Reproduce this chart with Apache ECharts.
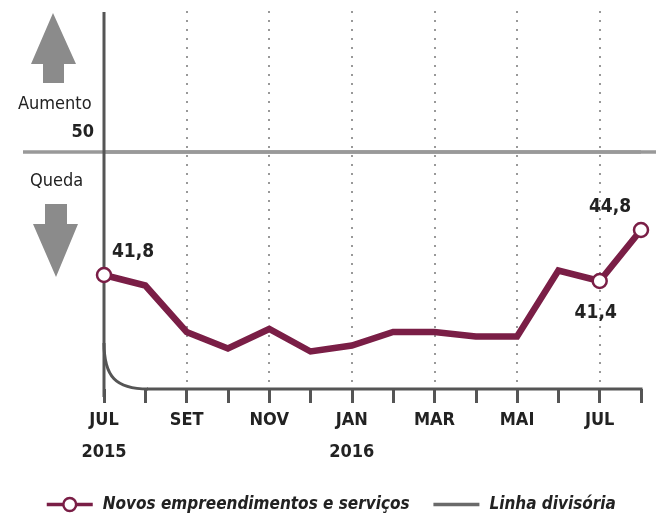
<!DOCTYPE html>
<html><head><meta charset="utf-8">
<script src="https://cdn.jsdelivr.net/npm/echarts@6/dist/echarts.min.js"></script>
<style>html,body{margin:0;padding:0;background:#fff}#c{width:656px;height:517px}</style>
</head><body><div id="c"></div>
<script>
// ---- data ----
const months = ['2015-07','2015-08','2015-09','2015-10','2015-11','2015-12','2016-01','2016-02','2016-03','2016-04','2016-05','2016-06','2016-07','2016-08'];
const tickLabels = ['JUL\n2015','','SET','','NOV','','JAN\n2016','','MAR','','MAI','','JUL',''];
const seriesName = 'Novos empreendimentos e serviços';
const values = [41.8,41.1,38.0,36.9,38.2,36.7,37.1,38.0,38.0,37.7,37.7,42.1,41.4,44.8];
const markedIdx = [0,12,13];
const dividerName = 'Linha divisória';
const dividerValue = 50;
const upText = 'Aumento';
const downText = 'Queda';
const dividerLabel = '50';

// ---- styling ----
const FONT = '"Liberation Sans Narrow","DejaVu Sans Condensed","Roboto Condensed",Roboto,sans-serif';
const WINE = '#7a1e46';
const labelPlace = {
  0: {position:'top', offset:[29,0]},
  12: {position:'bottom', offset:[-4,9]},
  13: {position:'top', offset:[-31,0]}
};
const fmt = v => v.toFixed(1).replace('.', ',');

const chart = echarts.init(document.getElementById('c'), null, {renderer:'canvas'});

const mainData = values.map((v,i) => {
  const marked = markedIdx.includes(i);
  const item = {value: v, symbol: marked ? 'circle' : 'none'};
  if (marked) {
    item.label = Object.assign({show:true, formatter: p => fmt(p.value)}, labelPlace[i]);
  }
  return item;
});

const option = {
  animation:false,
  textStyle:{fontFamily:FONT},
  grid:{left:104, right:15, top:11, bottom:128},
  xAxis:{
    type:'category', data:months, boundaryGap:false,
    axisLine:{show:false},
    axisTick:{show:true, interval:0, length:14, inside:false, lineStyle:{color:'#555', width:3}},
    axisLabel:{interval:0, formatter:(v,i)=>tickLabels[i], fontFamily:FONT, fontWeight:'bold', fontSize:18, color:'#222', lineHeight:32, margin:15},
    splitLine:{show:true, interval:(i)=> i>0 && i%2===0, lineStyle:{color:'#999', type:[2,7], width:2}}
  },
  yAxis:{type:'value', min:34.2, max:59.4, axisLine:{show:false}, axisTick:{show:false}, axisLabel:{show:false}, splitLine:{show:false}},
  legend:{
    top:491, left:40, itemGap:22, itemWidth:46, itemHeight:16, selectedMode:false,
    textStyle:{fontFamily:FONT, fontSize:17, fontWeight:'bold', fontStyle:'italic', color:'#222', padding:[0,0,0,5]},
    data:[
      {name:seriesName, lineStyle:{width:3.5, color:WINE}, itemStyle:{color:'#fff', borderColor:WINE, borderWidth:2.5}},
      {name:dividerName, itemStyle:{opacity:0}, lineStyle:{width:3.5, color:'#6a6a6a'}}
    ]
  },
  series:[
    {name:dividerName, type:'line', data:months.map(()=>dividerValue), symbol:'none', z:1,
     color:'#777', lineStyle:{color:'#999', width:3.5}},
    {name:seriesName, type:'line', data:mainData, z:10, symbol:'circle', symbolSize:14,
     color:WINE,
     lineStyle:{color:WINE, width:6.5, join:'miter'},
     itemStyle:{color:'#fff', borderColor:WINE, borderWidth:2.5},
     label:{fontFamily:FONT, fontSize:19, fontWeight:'bold', color:'#222', distance:5}}
  ]
};
chart.setOption(option);

const x0 = chart.convertToPixel({xAxisIndex:0}, 0);
const xN = chart.convertToPixel({xAxisIndex:0}, months.length-1);
const y50 = chart.convertToPixel({yAxisIndex:0}, dividerValue);
const yB = chart.convertToPixel({yAxisIndex:0}, 34.2);

chart.setOption({graphic:[
  {type:'line', z:1, shape:{x1:23, y1:y50, x2:656, y2:y50}, style:{stroke:'#999', lineWidth:3.5}},
  {type:'line', z:5, shape:{x1:x0, y1:12, x2:x0, y2:yB+8}, style:{stroke:'#555', lineWidth:3}},
  {type:'bezierCurve', z:5, shape:{x1:x0, y1:yB-46, cpx1:x0, cpy1:yB-12, cpx2:x0+12, cpy2:yB, x2:x0+44, y2:yB},
   style:{stroke:'#555', lineWidth:3, fill:null}},
  {type:'line', z:5, shape:{x1:x0+43, y1:yB, x2:xN+1.5, y2:yB}, style:{stroke:'#555', lineWidth:3}},
  {type:'polygon', z:1, shape:{points:[[53,13],[76,64],[64,64],[64,83],[43,83],[43,64],[31,64]]}, style:{fill:'#8b8b8b'}},
  {type:'polygon', z:1, shape:{points:[[45,204],[67,204],[67,224],[78,224],[56,277],[33,224],[45,224]]}, style:{fill:'#8b8b8b'}},
  {type:'text', z:5, style:{text:upText, x:18, y:104, verticalAlign:'middle', font:`18px ${FONT}`, fill:'#222'}},
  {type:'text', z:5, style:{text:dividerLabel, x:94, y:132, align:'right', verticalAlign:'middle', font:`bold 18px ${FONT}`, fill:'#222'}},
  {type:'text', z:5, style:{text:downText, x:30, y:181, verticalAlign:'middle', font:`18px ${FONT}`, fill:'#222'}}
]});
</script>
</body></html>
